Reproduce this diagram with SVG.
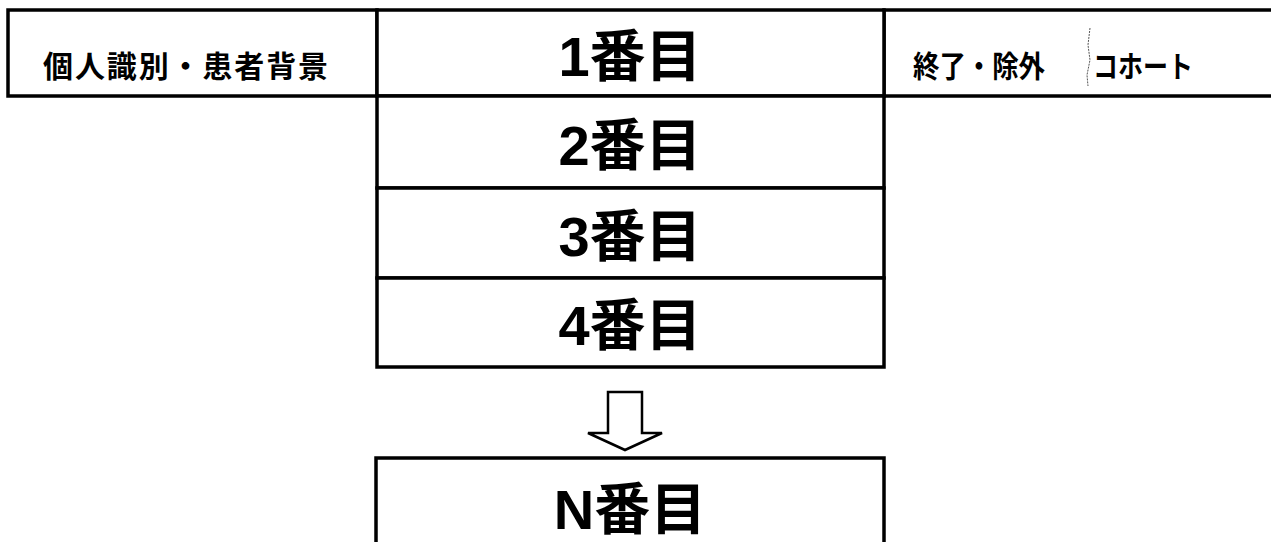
<svg xmlns="http://www.w3.org/2000/svg" width="1271" height="542" viewBox="0 0 1271 542">
<style>
.box{fill:#fff;stroke:#000;stroke-width:3.5}
.big{font-family:"Liberation Sans","Noto Sans CJK JP",sans-serif;font-weight:bold;font-size:56px;fill:#000;text-anchor:middle}
.lbl{font-family:"Noto Sans CJK JP","Liberation Sans",sans-serif;font-weight:bold;font-size:30px;fill:#000}
</style>
<rect width="1271" height="542" fill="#fff"/>
<g id="node-background">
<rect class="box" x="8" y="10" width="369" height="86"/>
<text class="lbl" x="43" y="77" textLength="285" lengthAdjust="spacing">個人識別・患者背景</text>
</g>
<g id="node-end">
<rect class="box" x="884" y="10" width="392" height="86"/>
<text class="lbl" x="913" y="77" textLength="132" lengthAdjust="spacingAndGlyphs">終了・除外</text>
<text class="lbl" x="1093" y="77" textLength="100" lengthAdjust="spacingAndGlyphs">コホート</text>
<path d="M1090,28 L1088,45 L1090,60 L1087,75 L1088,86" fill="none" stroke="#555" stroke-width="1" stroke-dasharray="2,1"/>
</g>
<g id="node-1">
<rect class="box" x="377" y="10" width="507" height="86"/>
<text class="big" x="630" y="76">1番目</text>
</g>
<g id="node-2">
<rect class="box" x="377" y="96" width="507" height="92"/>
<text class="big" x="630" y="165">2番目</text>
</g>
<g id="node-3">
<rect class="box" x="377" y="188" width="507" height="90"/>
<text class="big" x="630" y="256">3番目</text>
</g>
<g id="node-4">
<rect class="box" x="377" y="278" width="507" height="89"/>
<text class="big" x="630" y="345">4番目</text>
</g>
<g id="node-n">
<rect class="box" x="376" y="458" width="508" height="100"/>
<text class="big" x="630" y="529">N番目</text>
</g>
<g id="connectors">
<polygon points="608,392 642,392 642,433 662,433 625,450 588,433 608,433" fill="#fff" stroke="#000" stroke-width="2.5" stroke-linejoin="miter"/>
</g>
</svg>
